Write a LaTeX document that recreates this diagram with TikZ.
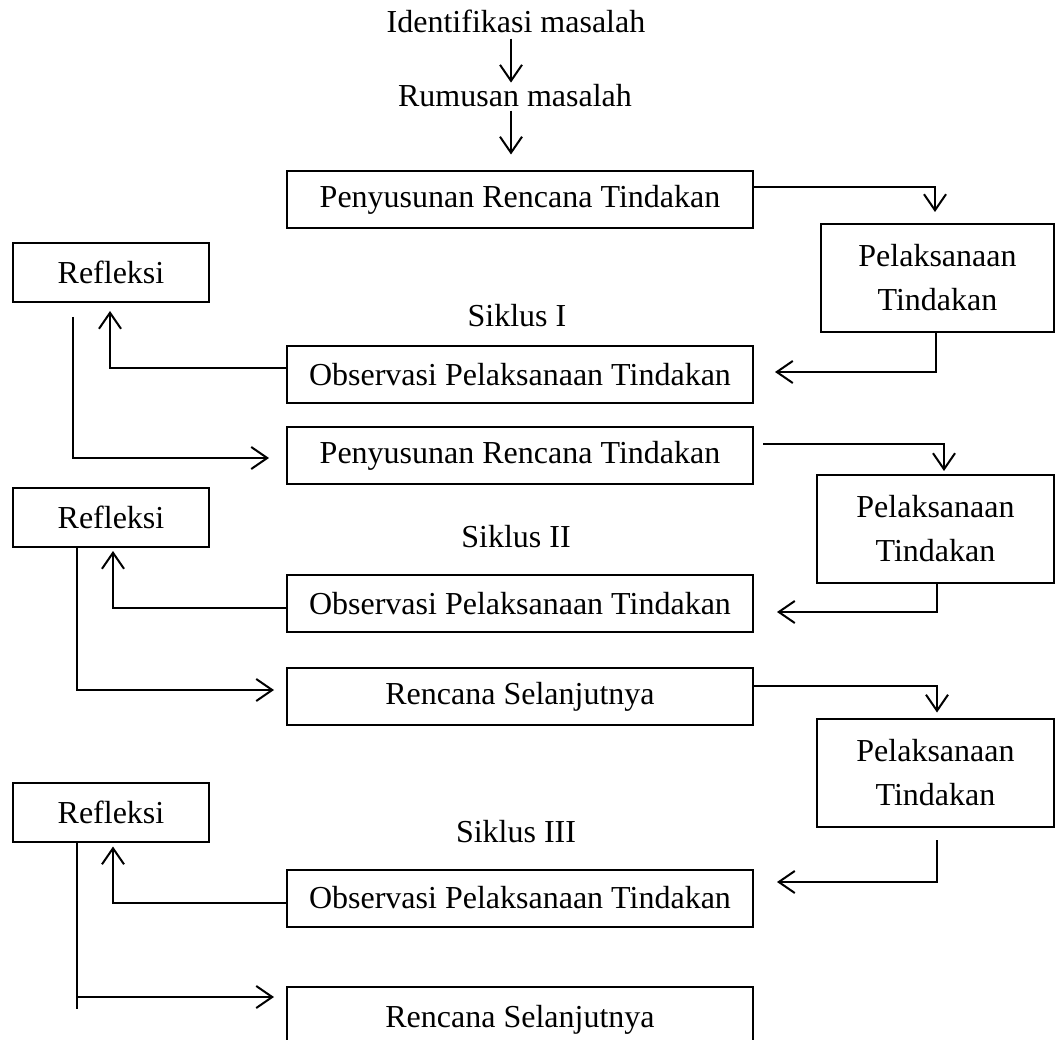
\documentclass[tikz,border=0pt]{standalone}
\usepackage{fontspec}
\setmainfont{Liberation Serif}
\usetikzlibrary{arrows.meta}
\begin{document}
\begin{tikzpicture}[x=1pt,y=-1pt,
  every node/.style={font=\fontsize{32}{44}\selectfont},
  box/.style={draw, line width=2pt, inner sep=0pt, align=center},
  wide/.style={box, minimum width=466pt, minimum height=57pt},
  pel/.style={box, minimum width=237pt, minimum height=108pt},
  refl/.style={box, minimum width=196pt, minimum height=59pt},
  lbl/.style={anchor=base, inner sep=0pt},
  arr/.style={line width=2pt, -{Straight Barb[length=16pt,width=22pt,line width=2pt]}},
  ln/.style={line width=2pt}]
\useasboundingbox (0,0) rectangle (1057,1040);
\clip (0,0) rectangle (1057,1040);

% text labels
\node[lbl] (ident) at (516,33) {Identifikasi masalah};
\node[lbl] (rumus) at (515,107) {Rumusan masalah};
\node[lbl] (sik1) at (517,327) {Siklus I};
\node[lbl] (sik2) at (516,547) {Siklus II};
\node[lbl] (sik3) at (516,842) {Siklus III};

% boxes
\node[wide] (prt1) at (520,200) {Penyusunan Rencana Tindakan};
\node[pel, minimum width=233pt] (pel1) at (937.5,278) {Pelaksanaan\\Tindakan};
\node[refl] (ref1) at (111,272.5) {Refleksi};
\node[wide] (obs1) at (520,374.5) {Observasi Pelaksanaan Tindakan};

\node[wide] (prt2) at (520,455.5) {Penyusunan Rencana Tindakan};
\node[pel] (pel2) at (935.5,529) {Pelaksanaan\\Tindakan};
\node[refl] (ref2) at (111,517.5) {Refleksi};
\node[wide] (obs2) at (520,603.5) {Observasi Pelaksanaan Tindakan};

\node[wide] (rs1) at (520,696.5) {Rencana Selanjutnya};
\node[pel] (pel3) at (935.5,772.5) {Pelaksanaan\\Tindakan};
\node[refl] (ref3) at (111,812) {Refleksi};
\node[wide] (obs3) at (520,898) {Observasi Pelaksanaan Tindakan};
\node[wide, minimum height=66pt] (rs2) at (520,1020) {Rencana Selanjutnya};

% helper coordinates
\coordinate (ax) at (511,0);
\coordinate (r1o) at (73,317);
\coordinate (p2o) at (763,444);
\coordinate (p3o) at (937,840);
\coordinate (j3) at (77,997);

% connectors
\draw[arr, shorten <=5pt, shorten >=2pt] (ident.south -| ax) -- (rumus.north -| ax);
\draw[arr, shorten <=3pt, shorten >=16pt] (rumus.south -| ax) -- (prt1.north -| ax);

\draw[arr, shorten >=11pt] ([yshift=13pt]prt1.east) -| ([xshift=-2.5pt]pel1.north);
\draw[arr, shorten >=21pt] ([xshift=-1.5pt]pel1.south) |- ([yshift=2.5pt]obs1.east);
\draw[arr, shorten >=8pt] ([yshift=6.5pt]obs1.west) -| ([xshift=-1pt]ref1.south);
\draw[arr, shorten >=17pt] (r1o) |- ([yshift=-2.5pt]prt2.west);

\draw[arr, shorten >=3pt] (p2o) -| ([xshift=8.5pt]pel2.north);
\draw[arr, shorten >=23pt] ([xshift=1.5pt]pel2.south) |- ([yshift=-8.5pt]obs2.east);
\draw[arr, shorten >=3pt] ([yshift=-4.5pt]obs2.west) -| ([xshift=2pt]ref2.south);
\draw[arr, shorten >=12pt] ([xshift=-34pt]ref2.south) |- ([yshift=6.5pt]rs1.west);

\draw[arr, shorten >=5pt] ([yshift=10.5pt]rs1.east) -| ([xshift=1.5pt]pel3.north);
\draw[arr, shorten >=23pt] (p3o) |- ([yshift=16pt]obs3.east);
\draw[arr, shorten >=4pt] ([yshift=-5pt]obs3.west) -| ([xshift=2pt]ref3.south);
\draw[ln] ([xshift=-34pt]ref3.south) -- ++(0,166);
\draw[arr, shorten >=12pt] (j3) -- (j3 -| rs2.west);
\end{tikzpicture}
\end{document}
